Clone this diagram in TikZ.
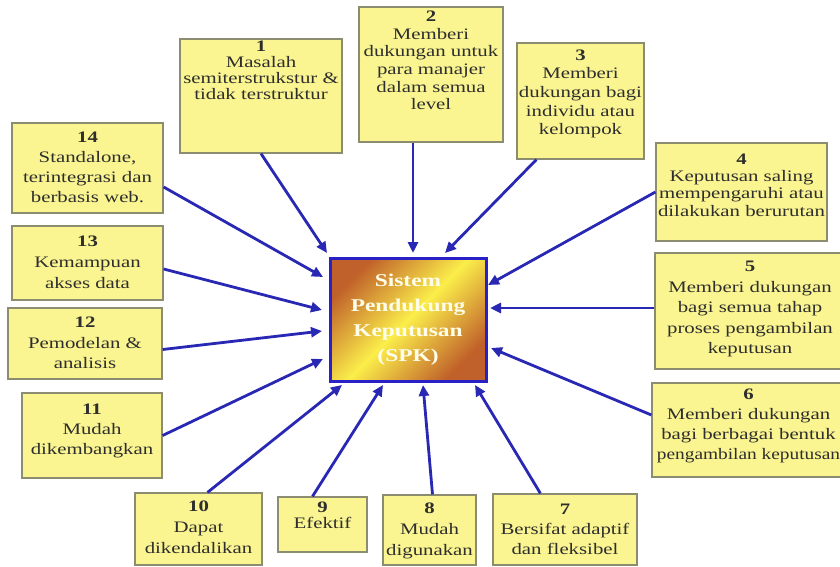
\documentclass[tikz,border=0pt]{standalone}
\usepackage{fontspec}
\setmainfont{Liberation Serif}[FakeStretch=1.3]
\usetikzlibrary{arrows.meta,calc}
\definecolor{boxfill}{HTML}{FAF590}
\definecolor{boxline}{HTML}{8C8C70}
\definecolor{arr}{HTML}{2828B4}
\definecolor{spkblue}{HTML}{2A20C8}
\definecolor{brownA}{HTML}{C0602A}
\definecolor{yelA}{HTML}{FBEE4A}
\newcommand\bxt[3]{\raisebox{#1}[0pt][0pt]{\fontsize{16}{#2}\selectfont\begin{tabular}{@{}c@{}}#3\end{tabular}}}
\begin{document}
\begin{tikzpicture}[x=1pt,y=-1pt,
  kotak/.style={draw=boxline, line width=1.2pt, fill=boxfill, inner sep=0pt, text=black!82},
  panah/.style={draw=arr, line width=2.8pt, -{Triangle[length=11pt,width=10pt]}}]
\useasboundingbox (0,0) rectangle (840,567);
\clip (0,0) rectangle (840,567);
\fill[white] (0,0) rectangle (840,567);

% central node
\node[draw=spkblue, line width=3pt, outer sep=0pt, inner sep=0pt,
      minimum width=156pt, minimum height=123pt,
      top color=brownA, bottom color=brownA, middle color=yelA, shading angle=45,
      text=white!92!yellow, align=center,
      font=\bfseries\fontsize{18}{25}\selectfont] (spk) at (408,319.5)
      {Sistem\\Pendukung\\Keputusan\\(SPK)};

% boxes
\node[kotak, minimum width=162pt, minimum height=114pt] (b1) at (261,96)
  {\bxt{19pt}{16pt}{\textbf{1}\\Masalah\\semiterstrukstur \&\\tidak terstruktur}};
\node[kotak, minimum width=144pt, minimum height=135pt] (b2) at (431,74.5)
  {\bxt{8pt}{17.7pt}{\textbf{2}\\Memberi\\dukungan untuk\\para manajer\\dalam semua\\level}};
\node[kotak, minimum width=127pt, minimum height=116pt] (b3) at (580.5,101)
  {\bxt{3pt}{18.7pt}{\textbf{3}\\Memberi\\dukungan bagi\\individu atau\\kelompok}};
\node[kotak, minimum width=171pt, minimum height=98pt] (b4) at (741.5,192)
  {\bxt{1pt}{17.3pt}{\textbf{4}\\Keputusan saling\\mempengaruhi atau\\dilakukan berurutan}};
\node[kotak, minimum width=190pt, minimum height=116pt] (b5) at (750,311)
  {\bxt{-2pt}{20.5pt}{\textbf{5}\\Memberi dukungan\\bagi semua tahap\\proses pengambilan\\keputusan}};
\node[kotak, minimum width=193pt, minimum height=94pt] (b6) at (748.5,430)
  {\bxt{0pt}{20pt}{\textbf{6}\\Memberi dukungan\\bagi berbagai bentuk\\\scalebox{0.93}[1]{pengambilan keputusan}}};
\node[kotak, minimum width=144pt, minimum height=71pt] (b7) at (565,529.5)
  {\bxt{-5pt}{20pt}{\textbf{7}\\Bersifat adaptif\\dan fleksibel}};
\node[kotak, minimum width=93pt, minimum height=70pt] (b8) at (429.5,530)
  {\bxt{-5pt}{21pt}{\textbf{8}\\Mudah\\digunakan}};
\node[kotak, minimum width=89pt, minimum height=55pt] (b9) at (322.5,524.5)
  {\bxt{3pt}{16pt}{\textbf{9}\\Efektif}};
\node[kotak, minimum width=127pt, minimum height=72pt] (b10) at (198.5,529)
  {\bxt{-4pt}{21pt}{\textbf{10}\\Dapat\\dikendalikan}};
\node[kotak, minimum width=140pt, minimum height=85pt] (b11) at (92,435.5)
  {\bxt{1pt}{20pt}{\textbf{11}\\Mudah\\dikembangkan}};
\node[kotak, minimum width=154pt, minimum height=71pt] (b12) at (85,343.5)
  {\bxt{-5pt}{20.5pt}{\textbf{12}\\Pemodelan \&\\analisis}};
\node[kotak, minimum width=151pt, minimum height=74pt] (b13) at (87.5,263)
  {\bxt{-5pt}{21pt}{\textbf{13}\\Kemampuan\\akses data}};
\node[kotak, minimum width=151pt, minimum height=90pt] (b14) at (87.5,168)
  {\bxt{-5pt}{20pt}{\textbf{14}\\Standalone,\\terintegrasi dan\\berbasis web.}};

% connectors
\draw[panah] (b1.south) -- ($(spk.north west)+(-3,-5)$);
\draw[panah] ([xshift=-18pt]b2.south) -- ($(spk.north west)+(83,-5)$);
\draw[panah] ([xshift=20pt]b3.south west) -- ($(spk.north west)+(115,-5)$);
\draw[panah] (b4.west) -- ($(spk.north east)+(2,27)$);
\draw[panah] ([yshift=3pt]b5.west) -- ($(spk.north east)+(4,50)$);
\draw[panah] ([yshift=15pt]b6.west) -- ($(spk.north east)+(5,90)$);
\draw[panah] ([xshift=48pt]b7.north west) -- ($(spk.south east)+(-11,4)$);
\draw[panah] ([xshift=3pt]b8.north) -- ($(spk.south east)+(-63,4)$);
\draw[panah] ([xshift=-10pt]b9.north) -- ($(spk.south west)+(53,4)$);
\draw[panah] ([xshift=9pt]b10.north) -- ($(spk.south west)+(12,4)$);
\draw[panah] (b11.east) -- ($(spk.south west)+(-7,-22)$);
\draw[panah] ([yshift=-6pt]b12.east) -- ($(spk.north west)+(-8,73)$);
\draw[panah] ([yshift=-6pt]b13.east) -- ($(spk.north west)+(-8,52)$);
\draw[panah] ([yshift=-19pt]b14.east) -- ($(spk.north west)+(-7,19)$);
\end{tikzpicture}
\end{document}
